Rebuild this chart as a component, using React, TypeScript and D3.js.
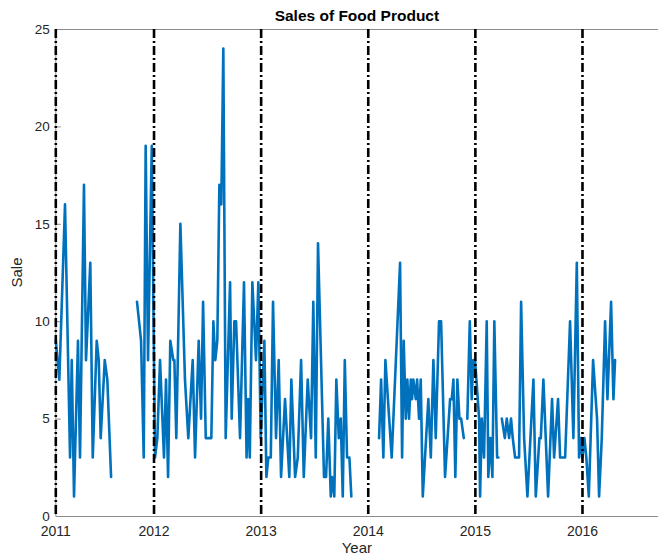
import React from "react";
import * as d3 from "d3";

// Weekly sales readings (decimal year, units sold). null marks a break in the record.
const saleYears: number[] = [
  2011.083, 2011.116, 2011.169, 2011.216, 2011.232, 2011.253, 2011.29, 2011.309, 2011.346, 2011.365,
  2011.381, 2011.405, 2011.428, 2011.465, 2011.484, 2011.502, 2011.54, 2011.564, 2011.599,
  2011.72,
  2011.841, 2011.879, 2011.904, 2011.922, 2011.944, 2011.979, 2012.009, 2012.031, 2012.056, 2012.093,
  2012.112, 2012.131, 2012.152, 2012.18, 2012.19, 2012.208, 2012.246, 2012.289, 2012.32, 2012.361,
  2012.383, 2012.417, 2012.439, 2012.458, 2012.483, 2012.535, 2012.554, 2012.572, 2012.591, 2012.61,
  2012.628, 2012.647, 2012.669, 2012.71, 2012.725, 2012.75, 2012.766, 2012.803, 2012.84, 2012.864,
  2012.878, 2012.894, 2012.918, 2012.952, 2012.974, 2012.996, 2013.03, 2013.049, 2013.067, 2013.09,
  2013.111, 2013.139, 2013.164, 2013.186, 2013.223, 2013.263, 2013.282, 2013.317, 2013.342, 2013.373,
  2013.398, 2013.435, 2013.466, 2013.487, 2013.51, 2013.531, 2013.587, 2013.606, 2013.627, 2013.65,
  2013.662, 2013.683, 2013.702, 2013.725, 2013.743, 2013.762, 2013.781, 2013.802, 2013.824, 2013.842,
  2013.97,
  2014.101, 2014.12, 2014.141, 2014.16, 2014.219, 2014.297, 2014.316, 2014.331, 2014.35, 2014.365,
  2014.381, 2014.397, 2014.409, 2014.421, 2014.444, 2014.456, 2014.474, 2014.49, 2014.509, 2014.561,
  2014.584, 2014.608, 2014.63, 2014.661, 2014.68, 2014.717, 2014.764, 2014.78, 2014.795, 2014.813,
  2014.832, 2014.851, 2014.867, 2014.892,
  2014.908,
  2014.925, 2014.948, 2014.966, 2014.981, 2014.997, 2015.035, 2015.044, 2015.06, 2015.081, 2015.106,
  2015.121, 2015.14, 2015.159, 2015.177, 2015.203, 2015.215,
  2015.231,
  2015.247, 2015.275, 2015.293, 2015.315, 2015.333, 2015.349, 2015.371, 2015.408, 2015.427, 2015.455,
  2015.486, 2015.542, 2015.564, 2015.598, 2015.611, 2015.635, 2015.679, 2015.716, 2015.735, 2015.772,
  2015.791, 2015.838, 2015.884, 2015.915, 2015.947, 2015.968, 2015.987, 2015.999, 2016.018, 2016.036,
  2016.059, 2016.099, 2016.136, 2016.155, 2016.18, 2016.211, 2016.233, 2016.267, 2016.289, 2016.304,
];

const saleValues: (number | null)[] = [
  9, 7, 16, 3, 8, 1, 9, 3, 17, 8,
  10, 13, 3, 9, 8, 4, 8, 7, 2,
  null,
  11, 9, 3, 19, 8, 19, 3, 4, 8, 3,
  7, 2, 9, 8, 8, 4, 15, 7, 4, 8,
  3, 9, 5, 11, 4, 4, 10, 8, 9, 17,
  16, 24, 4, 12, 5, 10, 10, 4, 12, 3,
  6, 3, 12, 8, 12, 4, 9, 2, 3, 3,
  11, 4, 8, 2, 6, 2, 7, 2, 3, 8,
  2, 7, 4, 11, 3, 14, 2, 2, 5, 1,
  2, 1, 7, 4, 5, 1, 8, 3, 3, 1,
  null,
  4, 7, 3, 8, 3, 13, 3, 9, 5, 7,
  5, 7, 6, 7, 6, 7, 5, 7, 1, 6,
  3, 8, 4, 10, 10, 2, 6, 6, 7, 2,
  7, 5, 5, 4,
  null,
  5, 10, 6, 8, 8, 5, 1, 5, 3, 10,
  2, 4, 2, 10, 3, 3,
  null,
  5, 4, 5, 4, 5, 4, 3, 3, 11, 4,
  1, 7, 1, 4, 4, 7, 1, 6, 3, 6,
  3, 3, 10, 4, 13, 3, 4, 3, 4, 3,
  1, 8, 5, 1, 4, 10, 6, 11, 6, 8,
];

// Year markers: the first one sits at the start of the record.
const yearTickAt: number[] = [2011.083, 2012, 2013, 2014, 2015, 2016];
const yearTickLabels: string[] = ["2011", "2012", "2013", "2014", "2015", "2016"];
const saleTicks: number[] = [0, 5, 10, 15, 20, 25];

const W = 658;
const H = 557;
const plotLeft = 55.8;
const plotRight = 658;
const plotTop = 29;
const plotBottom = 516;

const FONT = "'Liberation Sans', Arial, Helvetica, sans-serif";
const TEXT = "#262626";
const AXIS = "#8c8c8c";

export default function App() {
  const x = d3.scaleLinear().domain([2011.083, 2016.705]).range([plotLeft, plotRight]);
  const y = d3.scaleLinear().domain([0, 25]).range([plotBottom, plotTop]);

  const points = saleYears.map((t, i) => ({ t, v: saleValues[i] }));
  const line = d3
    .line<{ t: number; v: number | null }>()
    .defined((d) => d.v != null)
    .x((d) => x(d.t))
    .y((d) => y(d.v as number));

  return (
    <svg
      width={W}
      height={H}
      style={{ position: "absolute", left: 0, top: 0, background: "#fff" }}
      fontFamily={FONT}
    >
      <rect x={0} y={0} width={W} height={H} fill="#fff" />

      {/* axes frame */}
      <line x1={plotLeft} x2={plotRight} y1={plotTop + 0.5} y2={plotTop + 0.5} stroke={AXIS} strokeWidth={1} />
      <line x1={plotLeft} x2={plotRight} y1={plotBottom + 0.5} y2={plotBottom + 0.5} stroke={AXIS} strokeWidth={1} />
      <line x1={plotLeft} x2={plotLeft} y1={plotTop} y2={plotBottom} stroke={AXIS} strokeWidth={1} />

      {/* y ticks (inward) and labels */}
      {saleTicks.map((s) => (
        <g key={"y" + s}>
          <line x1={plotLeft} x2={plotLeft + 5} y1={y(s) + 0.5} y2={y(s) + 0.5} stroke={AXIS} strokeWidth={1} />
          <text x={plotLeft - 6} y={y(s)} dy="0.35em" textAnchor="end" fontSize={13.5} fill={TEXT}>
            {s}
          </text>
        </g>
      ))}

      {/* x tick labels */}
      {yearTickAt.map((t, i) => (
        <text key={"x" + i} x={x(t)} y={plotBottom + 20} textAnchor="middle" fontSize={14} fill={TEXT}>
          {yearTickLabels[i]}
        </text>
      ))}

      {/* sales series */}
      <path
        d={line(points) || ""}
        fill="none"
        stroke="#0072BD"
        strokeWidth={2.6}
        strokeLinejoin="round"
        strokeLinecap="round"
      />

      {/* year boundaries */}
      {yearTickAt.map((t, i) => (
        <line
          key={"v" + i}
          x1={x(t)}
          x2={x(t)}
          y1={plotTop}
          y2={plotBottom}
          stroke="#000"
          strokeWidth={2.6}
          strokeDasharray="9,3,2,3"
        />
      ))}

      {/* titles */}
      <text x={(plotLeft + plotRight) / 2} y={21} textAnchor="middle" fontSize={15.5} fontWeight="bold" fill="#000">
        Sales of Food Product
      </text>
      <text x={(plotLeft + plotRight) / 2} y={553} textAnchor="middle" fontSize={15} fill={TEXT}>
        Year
      </text>
      <text
        transform={`translate(22, ${(plotTop + plotBottom) / 2}) rotate(-90)`}
        textAnchor="middle"
        fontSize={15}
        fill={TEXT}
      >
        Sale
      </text>
    </svg>
  );
}
